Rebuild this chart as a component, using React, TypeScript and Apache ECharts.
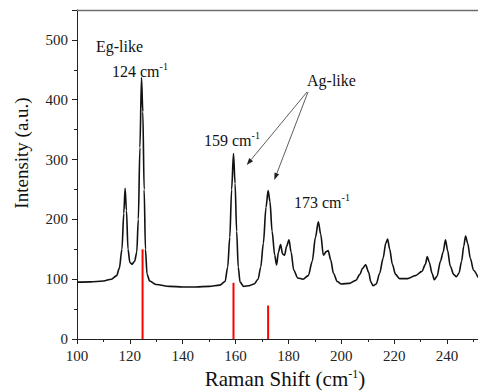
import React, { useEffect, useRef } from "react";
import * as echarts from "echarts";

// Raman shift (cm^-1) and intensity (a.u.)
const shift: number[] = [
  100, 105, 110, 113, 115, 116, 117, 117.7, 118.2, 118.7, 119.3, 120, 120.8, 121.8, 122.6, 123.2, 123.8, 124.4, 124.9,
  125.4, 125.9, 126.5, 127.5, 130, 135, 140, 145, 150, 154, 156, 157, 157.8, 158.5, 159.2, 159.8, 160.4, 161, 161.7,
  163, 165, 167, 168.5, 169.5, 170.5, 171.5, 172.3, 173, 173.8, 174.8, 175.5, 176.2, 177, 177.8, 178.5, 179.3, 180.2,
  181, 182, 183.5, 185.5, 187.5, 189, 190.2, 191.3, 192.2, 193.2, 194.3, 195, 196, 197, 198.5, 200, 203, 205.5, 207,
  208, 209.2, 210.3, 211.2, 212, 213.2, 214.5, 215.8, 216.8, 217.5, 218.3, 219.3, 220.5, 222, 225, 228, 230.5, 231.8,
  232.5, 233.3, 234.3, 235.2, 236.2, 237.5, 238.5, 239.4, 240.2, 241.2, 242.5, 243.5, 244.5, 245.5, 246.3, 247, 247.8,
  248.8, 250, 251.7,
];
const intensity: number[] = [
  95, 95.5, 97, 100, 106, 118, 150, 210, 252, 215, 150, 128, 125, 130, 145, 200, 320, 437, 380,
  250, 150, 108, 97, 91, 88, 87, 87, 88, 90, 96, 120, 170, 250, 310, 260, 180, 120, 95,
  88, 89, 92, 100, 120, 160, 220, 248, 230, 180, 140, 124, 145, 158, 142, 140, 155, 166,
  145, 115, 102, 100, 106, 130, 170, 196, 175, 140, 146, 148, 132, 110, 96, 92, 93, 98, 108,
  118, 124, 112, 95, 89, 92, 110, 135, 160, 167, 150, 125, 108, 101, 101, 106, 113, 125,
  138, 128, 110, 99, 105, 130, 145, 166, 148, 122, 108, 104, 110, 130, 155, 172, 160,
  135, 115, 103,
];

// Calculated mode positions (red sticks)
const stickShift: number[] = [124.8, 159.2, 172.3];
const stickHeight: number[] = [150, 94, 56];

const xTicks = { min: 100, max: 251.7, interval: 20 };
const yTicks = { min: 0, max: 550, interval: 100 };

const serif = "'Liberation Serif', 'Times New Roman', Times, serif";

function arrow(x1: number, y1: number, x2: number, y2: number) {
  const dx = x2 - x1;
  const dy = y2 - y1;
  const len = Math.sqrt(dx * dx + dy * dy);
  const ux = dx / len;
  const uy = dy / len;
  const hl = 7;
  const hw = 2.5;
  const bx = x2 - ux * hl;
  const by = y2 - uy * hl;
  return [
    {
      type: "line",
      shape: { x1, y1, x2: bx, y2: by },
      style: { stroke: "#333", lineWidth: 0.8 },
    },
    {
      type: "polygon",
      shape: {
        points: [
          [x2, y2],
          [bx - uy * hw, by + ux * hw],
          [bx + uy * hw, by - ux * hw],
        ],
      },
      style: { fill: "#222" },
    },
  ];
}

function cmLabel(left: number, cy: number, num: string) {
  return {
    type: "text",
    left,
    top: cy - 10,
    style: {
      text: `{n|${num} cm}{s|-1}`,
      rich: {
        n: { fontFamily: serif, fontSize: 16, lineHeight: 20, fill: "#111" },
        s: { fontFamily: serif, fontSize: 10, lineHeight: 12, verticalAlign: "top", fill: "#111" },
      },
    },
  };
}

export default function App() {
  const ref = useRef<HTMLDivElement>(null);
  useEffect(() => {
    if (!ref.current) return;
    const chart = echarts.init(ref.current, null, { renderer: "svg" });
    const spectrum = shift.map((x, i) => [x, intensity[i]]);
    const sticks = stickShift.map((x, i) => [x, stickHeight[i]]);
    chart.setOption({
      animation: false,
      backgroundColor: "#fff",
      textStyle: { fontFamily: serif },
      grid: { left: 77, top: 10, width: 402, height: 329 },
      xAxis: {
        type: "value",
        min: xTicks.min,
        max: xTicks.max,
        interval: xTicks.interval,
        axisLine: { show: true, onZero: false, lineStyle: { color: "#222", width: 1 } },
        axisTick: { show: true, inside: false, length: 5, lineStyle: { color: "#222" } },
        minorTick: { show: true, splitNumber: 2, length: 3, lineStyle: { color: "#222" } },
        splitLine: { show: false },
        axisLabel: {
          showMaxLabel: false,
          margin: 9,
          fontFamily: serif,
          fontSize: 15,
          color: "#222",
        },
      },
      yAxis: {
        type: "value",
        min: yTicks.min,
        max: yTicks.max,
        interval: yTicks.interval,
        axisLine: { show: true, onZero: false, lineStyle: { color: "#222", width: 1 } },
        axisTick: { show: true, inside: false, length: 5, lineStyle: { color: "#222" } },
        minorTick: { show: true, splitNumber: 2, length: 3, lineStyle: { color: "#222" } },
        splitLine: { show: false },
        axisLabel: {
          showMaxLabel: false,
          margin: 9,
          fontFamily: serif,
          fontSize: 15,
          color: "#222",
        },
      },
      series: [
        {
          type: "line",
          data: spectrum,
          showSymbol: false,
          smooth: 0.3,
          smoothMonotone: "x",
          lineStyle: { color: "#111", width: 1.6 },
          z: 2,
        },
        {
          type: "custom",
          data: sticks,
          z: 3,
          renderItem: (params: any, api: any) => {
            const x = api.value(0);
            const h = api.value(1);
            const p0 = api.coord([x, 0]);
            const p1 = api.coord([x, h]);
            return {
              type: "line",
              shape: { x1: p0[0], y1: p0[1], x2: p1[0], y2: p1[1] },
              style: { stroke: "#ff0000", lineWidth: 2 },
            };
          },
        },
      ],
      graphic: [
        {
          type: "line",
          shape: { x1: 77, y1: 10.5, x2: 478, y2: 10.5 },
          style: { stroke: "#6e6e6e", lineWidth: 1.5 },
          z: 10,
        },
        {
          type: "text",
          left: 96,
          top: 38,
          style: { text: "Eg-like", fontFamily: serif, fontSize: 16, fill: "#111" },
        },
        cmLabel(112, 71, "124"),
        cmLabel(204, 140, "159"),
        cmLabel(294, 202, "173"),
        {
          type: "text",
          left: 307,
          top: 72,
          style: { text: "Ag-like", fontFamily: serif, fontSize: 16, fill: "#111" },
        },
        ...arrow(307, 92, 246.7, 165),
        ...arrow(308, 92, 274.3, 180),
        {
          type: "text",
          x: 21,
          y: 153,
          rotation: Math.PI / 2,
          style: {
            text: "Intensity (a.u.)",
            fontFamily: serif,
            fontSize: 19,
            fill: "#111",
            align: "center",
            verticalAlign: "middle",
          },
        },
        {
          type: "text",
          x: 285,
          y: 379,
          style: {
            text: "{a|Raman Shift (cm}{s|-1}{a|)}",
            align: "center",
            verticalAlign: "middle",
            rich: {
              a: { fontFamily: serif, fontSize: 21, lineHeight: 22, fill: "#111" },
              s: { fontFamily: serif, fontSize: 12, lineHeight: 12, verticalAlign: "top", fill: "#111" },
            },
          },
        },
      ],
    });
    return () => chart.dispose();
  }, []);
  return (
    <div
      ref={ref}
      style={{ position: "absolute", left: 0, top: 0, width: 478, height: 391 }}
    />
  );
}
